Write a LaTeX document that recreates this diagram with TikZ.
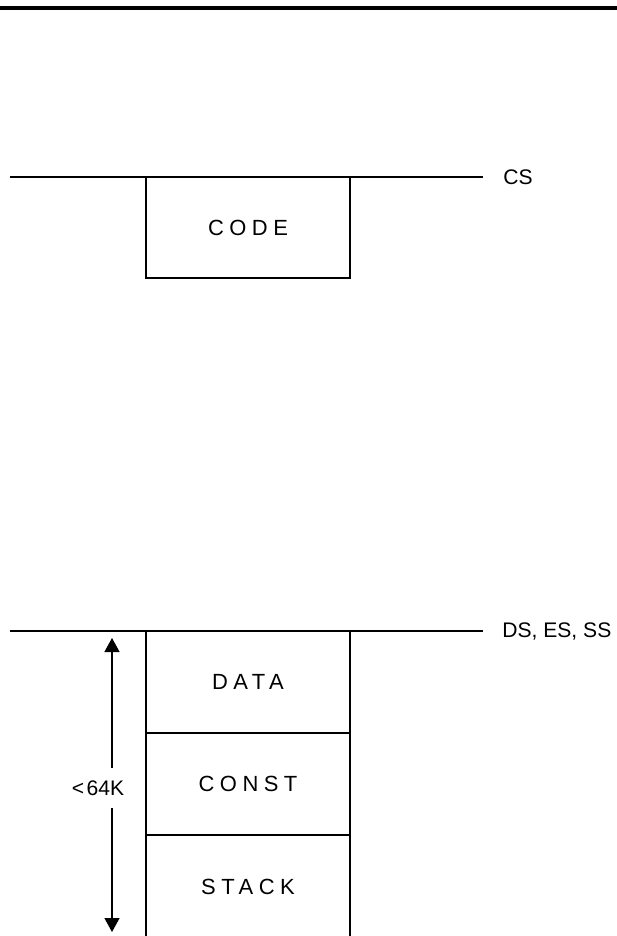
\documentclass[tikz,border=0pt]{standalone}
\usepackage{fontspec}
\setmainfont{Liberation Sans}
\newfontfamily\boxfont[LetterSpace=25]{Liberation Sans}
\usepackage{tikz}
\usetikzlibrary{arrows.meta, positioning}

\begin{document}
\begin{tikzpicture}[
    x=0.02cm, y=-0.02cm,
    node distance=0cm,
    seg/.style={rectangle, draw, line width=0.8pt, minimum width=4.08cm, minimum height=2.04cm, inner sep=0pt, outer sep=0pt, font=\boxfont\fontsize{12.5}{14}\selectfont},
    busline/.style={line width=0.8pt},
    reg/.style={anchor=west, inner sep=0pt, font=\fontsize{12}{14}\selectfont},
    dim/.style={-{Triangle[width=0.3cm, length=0.28cm]}, line width=0.8pt},
]
    \clip (0,0) rectangle (617,936);
    \draw[line width=2.4pt] (0,8) -- (617,8);

    % Code segment
    \coordinate (csend) at (483,177);
    \draw[busline] (10,177) -- (csend);
    \node[reg, right=0.4cm of csend] (cs) {CS};
    \node[seg, anchor=north, minimum height=2.02cm] (code) at (248,177) {CODE};

    % Data segment
    \coordinate (dsend) at (483,631);
    \draw[busline] (10,631) -- (dsend);
    \node[reg, right=0.38cm of dsend] (ds) {DS, ES, SS};
    \node[seg, anchor=north] (data) at (248,631) {DATA};
    \node[seg, below=of data] (const) {CONST};
    \node[seg, below=of const, minimum height=2.08cm] (stack) {STACK};

    % Size of the group
    \node[font=\fontsize{12}{14}\selectfont, inner xsep=0pt, inner ysep=0.24cm] (size) at (98,788) {<\kern1.5pt64K};
    \coordinate (top) at (112,638);
    \coordinate (bot) at (112,932);
    \draw[dim] (size.north -| top) -- (top);
    \draw[dim] (size.south -| bot) -- (bot);
\end{tikzpicture}
\end{document}
